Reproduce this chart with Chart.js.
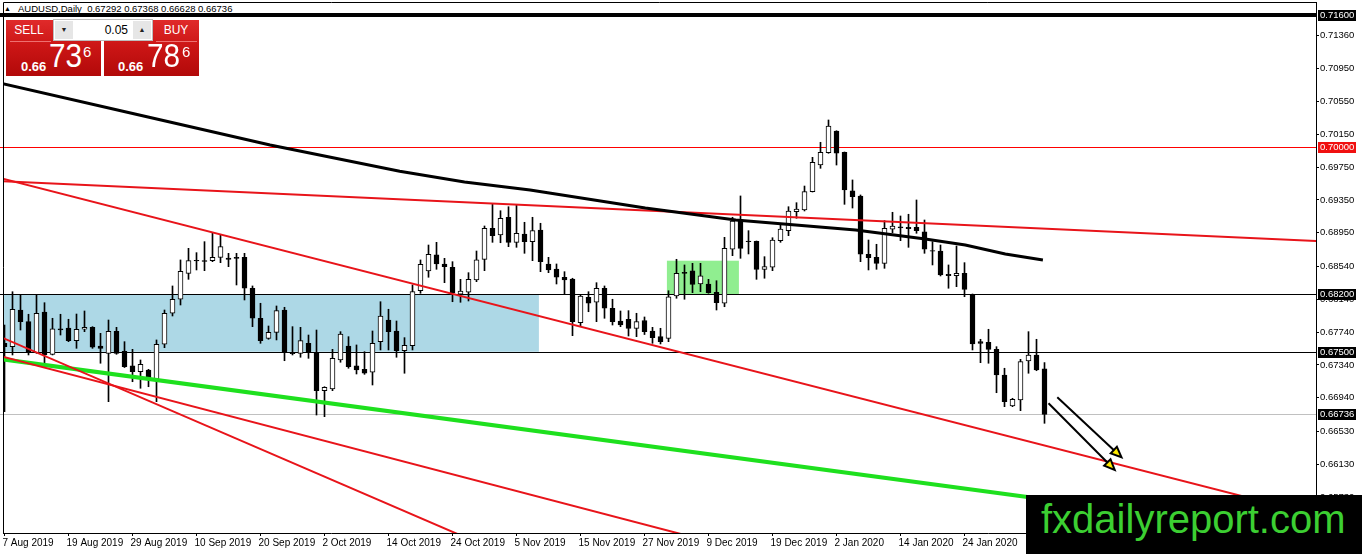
<!DOCTYPE html>
<html>
<head>
<meta charset="utf-8">
<title>AUDUSD Daily</title>
<script src="https://cdn.jsdelivr.net/npm/chart.js@4.4.1/dist/chart.umd.min.js"></script>
<style>
  html, body { margin: 0; padding: 0; background: #fff; }
  #wrap { position: relative; width: 1362px; height: 554px; overflow: hidden; font-family: "Liberation Sans", Arial, sans-serif; }
  #chart { position: absolute; left: 0; top: 0; z-index: 1; }
  #tri { position: absolute; left: 4px; top: 5px; font-size: 7px; line-height: 8px; z-index: 0; }
  #title { position: absolute; left: 18px; top: 3px; z-index: 0; font-size: 9.5px; line-height: 11px; white-space: pre; color: #000; }
  .blk { position: absolute; top: 20px; width: 95px; height: 56px; z-index: 2; color: #fff;
         background: linear-gradient(#e02a2a, #cc1616 45%, #b20909); }
  .act { position: absolute; top: 3px; width: 46px; text-align: center; font-size: 12px; line-height: 14px; }
  .sep { position: absolute; top: 21px; width: 41px; height: 1px; background: #ee7070; }
  .pre { position: absolute; top: 40px; font-weight: bold; font-size: 13px; line-height: 13px; }
  .big { position: absolute; top: 19px; font-size: 33px; line-height: 33px; transform: scaleX(0.9); transform-origin: left top; }
  .sup { position: absolute; top: 24px; font-size: 15px; line-height: 15px; }
  #spin { position: absolute; left: 53px; top: 19px; width: 100px; height: 22px; z-index: 3; background: #fff;
          border: 1px solid #bdbdbd; box-sizing: border-box; font-size: 12px; }
  #spin .btn { position: absolute; top: 1px; width: 18px; height: 18px; background: #e6e6e6; font-size: 7px; line-height: 18px; text-align: center; color: #222; }
  #spin .val { position: absolute; right: 24px; top: 3px; line-height: 14px; color: #000; }
  #mark { position: absolute; left: 1026px; top: 495px; width: 336px; height: 59px; z-index: 3; background: #000;
          color: #3ccf32; font-size: 40px; line-height: 40px; padding: 4px 0 0 15px; box-sizing: border-box; white-space: nowrap; }
</style>
</head>
<body>
<div id="wrap">
  <div id="tri">&#9650;</div>
  <div id="title">AUDUSD,Daily  0.67292 0.67368 0.66628 0.66736</div>
  <canvas id="chart" width="1362" height="554"></canvas>
  <div class="blk" style="left:6px">
    <div class="act" style="left:0">SELL</div>
    <div class="sep" style="left:4px"></div>
    <div class="pre" style="left:15px">0.66</div>
    <div class="big" style="left:43px">73</div>
    <div class="sup" style="left:77px">6</div>
  </div>
  <div class="blk" style="left:104px">
    <div class="act" style="left:49px">BUY</div>
    <div class="sep" style="left:52px"></div>
    <div class="pre" style="left:14px">0.66</div>
    <div class="big" style="left:43px">78</div>
    <div class="sup" style="left:78px">6</div>
  </div>
  <div id="spin">
    <div class="btn" style="left:1px">&#9660;</div>
    <div class="val">0.05</div>
    <div class="btn" style="left:79px">&#9650;</div>
  </div>
  <div id="mark">fxdailyreport.com</div>
</div>
<script>
(function () {
    "use strict";

    // tick labels
    var dates = ["7 Aug 2019", "19 Aug 2019", "29 Aug 2019", "10 Sep 2019", "20 Sep 2019", "2 Oct 2019",
        "14 Oct 2019", "24 Oct 2019", "5 Nov 2019", "15 Nov 2019", "27 Nov 2019", "9 Dec 2019",
        "19 Dec 2019", "2 Jan 2020", "14 Jan 2020", "24 Jan 2020"];
    var priceTicks = [0.71360, 0.70950, 0.70550, 0.70150, 0.69750, 0.69350, 0.68950, 0.68540,
        0.68140, 0.67740, 0.67340, 0.66940, 0.66530, 0.66130, 0.65730];

    // daily candles, 7 Aug 2019 .. 7 Feb 2020
    var opens = [
        0.67603, 0.67562, 0.68009, 0.67867, 0.67489, 0.67985, 0.67469, 0.67778, 0.67790, 0.67635,
        0.67774, 0.67798, 0.67570, 0.67481, 0.67750, 0.67506, 0.67327, 0.67257, 0.67278, 0.67165,
        0.67591, 0.67969, 0.68140, 0.68456, 0.68615, 0.68610, 0.68610, 0.68651, 0.68643, 0.68651,
        0.68651, 0.68274, 0.67908, 0.67664, 0.67737, 0.68009, 0.67489, 0.67481, 0.67603, 0.67494,
        0.67026, 0.67046, 0.67400, 0.67570, 0.67327, 0.67286, 0.67250, 0.67623, 0.67887, 0.67753,
        0.67513, 0.67574, 0.68244, 0.68485, 0.68680, 0.68570, 0.68530, 0.68201, 0.68225, 0.68375,
        0.68627, 0.69005, 0.68923, 0.69139, 0.68834, 0.68935, 0.68842, 0.68984, 0.68570, 0.68509,
        0.68408, 0.68387, 0.67854, 0.68164, 0.68103, 0.68274, 0.68030, 0.67875, 0.67896, 0.67786,
        0.67881, 0.67753, 0.67684, 0.67664, 0.68180, 0.68469, 0.68485, 0.68326, 0.68326, 0.68225,
        0.68091, 0.68749, 0.69106, 0.68850, 0.68846, 0.68505, 0.68530, 0.68854, 0.68976, 0.69207,
        0.69228, 0.69451, 0.69776, 0.69926, 0.70191, 0.69931, 0.69460, 0.69399, 0.68688, 0.68651,
        0.68578, 0.68993, 0.69024, 0.69017, 0.69017, 0.68963, 0.68732, 0.68728, 0.68444, 0.68427,
        0.68456, 0.68192, 0.67623, 0.67615, 0.67530, 0.67217, 0.66839, 0.66912, 0.67388, 0.67461,
        0.67292];
    var highs = [
        0.67826, 0.68232, 0.68192, 0.67957, 0.68192, 0.68098, 0.67908, 0.67957, 0.67896, 0.67960,
        0.67997, 0.67806, 0.67725, 0.67887, 0.67798, 0.67623, 0.67530, 0.67400, 0.67286, 0.67644,
        0.68009, 0.68302, 0.68619, 0.68761, 0.68708, 0.68842, 0.68944, 0.68923, 0.68700, 0.68700,
        0.68700, 0.68302, 0.68091, 0.67814, 0.68058, 0.68042, 0.67806, 0.67798, 0.67704, 0.67765,
        0.67074, 0.67530, 0.67745, 0.67684, 0.67583, 0.67501, 0.67753, 0.68110, 0.68018, 0.67875,
        0.67672, 0.68314, 0.68619, 0.68801, 0.68834, 0.68639, 0.68598, 0.68383, 0.68464, 0.68728,
        0.69033, 0.69301, 0.69219, 0.69268, 0.69289, 0.69078, 0.69139, 0.69066, 0.68651, 0.68570,
        0.68476, 0.68396, 0.68192, 0.68232, 0.68342, 0.68302, 0.68140, 0.67997, 0.68001, 0.67969,
        0.67924, 0.67798, 0.67786, 0.68244, 0.68627, 0.68558, 0.68578, 0.68578, 0.68383, 0.68366,
        0.68895, 0.69139, 0.69399, 0.68976, 0.68850, 0.68659, 0.68890, 0.69045, 0.69268, 0.69317,
        0.69520, 0.69870, 0.70053, 0.70325, 0.70194, 0.69935, 0.69594, 0.69411, 0.68862, 0.68810,
        0.69098, 0.69200, 0.69155, 0.69176, 0.69350, 0.69106, 0.68842, 0.68801, 0.68558, 0.68789,
        0.68586, 0.68204, 0.67652, 0.67774, 0.67562, 0.67299, 0.66933, 0.67408, 0.67745, 0.67652,
        0.67368];
    var lows = [
        0.66770, 0.67461, 0.67765, 0.67461, 0.67481, 0.67339, 0.67461, 0.67704, 0.67623, 0.67542,
        0.67745, 0.67542, 0.67360, 0.66892, 0.67469, 0.67308, 0.67135, 0.67055, 0.67074, 0.66892,
        0.67550, 0.67936, 0.68070, 0.68383, 0.68497, 0.68488, 0.68598, 0.68586, 0.68537, 0.68314,
        0.68131, 0.67806, 0.67603, 0.67652, 0.67644, 0.67391, 0.67461, 0.67433, 0.67420, 0.66729,
        0.66709, 0.67026, 0.67372, 0.67299, 0.67229, 0.67225, 0.67095, 0.67522, 0.67522, 0.67433,
        0.67238, 0.67522, 0.68213, 0.68408, 0.68505, 0.68342, 0.68110, 0.68103, 0.68119, 0.68354,
        0.68488, 0.68834, 0.68829, 0.68781, 0.68773, 0.68700, 0.68610, 0.68476, 0.68464, 0.68326,
        0.68201, 0.67696, 0.67806, 0.67988, 0.67867, 0.67908, 0.67826, 0.67806, 0.67692, 0.67684,
        0.67710, 0.67603, 0.67595, 0.67623, 0.68152, 0.68140, 0.68220, 0.68232, 0.68213, 0.68009,
        0.68049, 0.68671, 0.68639, 0.68692, 0.68383, 0.68396, 0.68488, 0.68834, 0.68915, 0.69127,
        0.69216, 0.69447, 0.69736, 0.69919, 0.69776, 0.69297, 0.69252, 0.68598, 0.68497, 0.68505,
        0.68517, 0.68951, 0.68854, 0.68773, 0.68944, 0.68700, 0.68558, 0.68424, 0.68274, 0.68293,
        0.68171, 0.67522, 0.67367, 0.67360, 0.67001, 0.66831, 0.66831, 0.66782, 0.67238, 0.67269,
        0.66628];
    var closes = [
        0.67562, 0.68018, 0.67867, 0.67494, 0.67969, 0.67461, 0.67778, 0.67765, 0.67635, 0.67774,
        0.67798, 0.67555, 0.67542, 0.67750, 0.67481, 0.67318, 0.67257, 0.67347, 0.67184, 0.67591,
        0.67969, 0.68140, 0.68481, 0.68610, 0.68607, 0.68601, 0.68651, 0.68781, 0.68627, 0.68639,
        0.68274, 0.67908, 0.67635, 0.67737, 0.68001, 0.67494, 0.67477, 0.67635, 0.67494, 0.67026,
        0.67067, 0.67420, 0.67717, 0.67318, 0.67278, 0.67238, 0.67603, 0.67936, 0.67745, 0.67513,
        0.67579, 0.68232, 0.68566, 0.68689, 0.68570, 0.68537, 0.68213, 0.68241, 0.68383, 0.68619,
        0.69005, 0.68915, 0.69127, 0.68834, 0.68944, 0.68842, 0.68976, 0.68598, 0.68497, 0.68408,
        0.68375, 0.67867, 0.68180, 0.68091, 0.68274, 0.68030, 0.67867, 0.67826, 0.67786, 0.67867,
        0.67745, 0.67672, 0.67623, 0.68171, 0.68456, 0.68456, 0.68322, 0.68424, 0.68220, 0.68098,
        0.68761, 0.69094, 0.68761, 0.68842, 0.68505, 0.68537, 0.68862, 0.68996, 0.69216, 0.69240,
        0.69451, 0.69809, 0.69931, 0.70252, 0.69919, 0.69472, 0.69390, 0.68688, 0.68647, 0.68578,
        0.69005, 0.69033, 0.69009, 0.69000, 0.68976, 0.68749, 0.68725, 0.68436, 0.68427, 0.68456,
        0.68261, 0.67595, 0.67603, 0.67530, 0.67217, 0.66892, 0.66921, 0.67379, 0.67461, 0.67278,
        0.66736];

    // moving average, read at a few bars
    var maX = [-0.56, 16.3, 33.2, 49.4, 57.5, 65.7, 80.1, 91.4, 106.4, 115.1, 120.1, 125.1, 129.8];
    var maY = [0.70775, 0.70398, 0.70020, 0.69700, 0.69570, 0.69471, 0.69252, 0.69106, 0.68984, 0.68874, 0.68801, 0.68691, 0.68618];

    // trend lines (bar index, price)
    var upperRedX = [-0.56, 163.94], upperRedY = [0.69581, 0.68850];
    var channelRedX = [-0.56, 163.94], channelRedY = [0.69618, 0.65510];
    var lowRed1X = [-0.56, 60], lowRed1Y = [0.67683, 0.65137];
    var lowRed2X = [-0.56, 90], lowRed2Y = [0.67448, 0.65140];
    var greenX = [-0.56, 128.8], greenY = [0.67412, 0.65717];

    // horizontal levels and zones
    var levels = [0.71600, 0.70000, 0.68200, 0.67500, 0.66736];
    var blueZone = [-0.19, 66.8, 0.67500, 0.68200];
    var greenZone = [82.8, 91.8, 0.68200, 0.68610];

    // arrows
    var arrowFromX = [130.5, 131.6], arrowFromY = [0.66872, 0.66945];
    var arrowToX = [139.0, 139.85], arrowToY = [0.66038, 0.66193];

    Chart.defaults.font.family = '"Liberation Sans", Arial, sans-serif';
    Chart.defaults.color = '#000';

    function pts(xs, ys) {
        return xs.map(function (x, k) { return {x: x, y: ys[k]}; });
    }

    function trend(xs, ys, color, width, order) {
        return {
            type: 'line', data: pts(xs, ys), borderColor: color, borderWidth: width,
            pointRadius: 0, tension: 0, clip: 0, order: order
        };
    }

    var bodies = opens.map(function (o, i) { return {x: i, y: [o, closes[i]]}; });
    var wicks = lows.map(function (l, i) { return {x: i, y: [l, highs[i]]}; });
    var bodyColors = opens.map(function (o, i) { return closes[i] >= o ? '#fff' : '#000'; });

    var levelColor = ['#000', '#ff0000', '#000', '#000', '#c0c0c0'];
    var levelWidth = [4, 1, 1, 1, 1];
    var tagColor = ['#000', '#f01010', '#000', '#000', '#000'];

    var decor = {
        id: 'decor',
        beforeDatasetsDraw: function (c) {
            var ctx = c.ctx, xs = c.scales.x, ys = c.scales.y, a = c.chartArea;
            ctx.save();
            ctx.beginPath();
            ctx.rect(a.left, a.top, a.right - a.left, a.bottom - a.top);
            ctx.clip();
            [[blueZone, '#add8e6'], [greenZone, '#90ee90']].forEach(function (z) {
                var b = z[0];
                var x1 = xs.getPixelForValue(b[0]), x2 = xs.getPixelForValue(b[1]);
                var y1 = ys.getPixelForValue(b[3]), y2 = ys.getPixelForValue(b[2]);
                ctx.fillStyle = z[1];
                ctx.fillRect(x1, y1, x2 - x1, y2 - y1);
            });
            ctx.restore();
            ctx.save();
            levels.forEach(function (v, k) {
                var y = Math.round(ys.getPixelForValue(v)) + (levelWidth[k] % 2 ? 0.5 : 0);
                ctx.strokeStyle = levelColor[k];
                ctx.lineWidth = levelWidth[k];
                ctx.beginPath();
                ctx.moveTo(0, y);
                ctx.lineTo(a.right, y);
                ctx.stroke();
            });
            ctx.restore();
        },
        afterDatasetsDraw: function (c) {
            var ctx = c.ctx, xs = c.scales.x, ys = c.scales.y;
            ctx.save();
            arrowFromX.forEach(function (fx, k) {
                var x1 = xs.getPixelForValue(fx), y1 = ys.getPixelForValue(arrowFromY[k]);
                var x2 = xs.getPixelForValue(arrowToX[k]), y2 = ys.getPixelForValue(arrowToY[k]);
                var ang = Math.atan2(y2 - y1, x2 - x1), cs = Math.cos(ang), sn = Math.sin(ang);
                ctx.strokeStyle = '#000';
                ctx.lineWidth = 2;
                ctx.beginPath();
                ctx.moveTo(x1, y1);
                ctx.lineTo(x2 - 8 * cs, y2 - 8 * sn);
                ctx.stroke();
                ctx.fillStyle = '#000';
                ctx.beginPath();
                ctx.moveTo(x2, y2);
                ctx.lineTo(x2 - 14 * cs + 6 * sn, y2 - 14 * sn - 6 * cs);
                ctx.lineTo(x2 - 14 * cs - 6 * sn, y2 - 14 * sn + 6 * cs);
                ctx.closePath();
                ctx.fill();
                ctx.fillStyle = '#ffea00';
                ctx.beginPath();
                ctx.moveTo(x2 - 5 * cs, y2 - 5 * sn);
                ctx.lineTo(x2 - 12 * cs + 3 * sn, y2 - 12 * sn - 3 * cs);
                ctx.lineTo(x2 - 12 * cs - 3 * sn, y2 - 12 * sn + 3 * cs);
                ctx.closePath();
                ctx.fill();
            });
            ctx.restore();
        },
        afterDraw: function (c) {
            var ctx = c.ctx, ys = c.scales.y, a = c.chartArea;
            ctx.save();
            // frame
            ctx.strokeStyle = '#000';
            ctx.lineWidth = 1;
            ctx.beginPath();
            ctx.moveTo(a.left + 0.5, a.bottom);
            ctx.lineTo(a.left + 0.5, a.top + 0.5);
            ctx.lineTo(a.right, a.top + 0.5);
            ctx.stroke();
            // price tags on the axis
            ctx.font = '9.5px "Liberation Sans", Arial, sans-serif';
            ctx.textBaseline = 'middle';
            ctx.textAlign = 'left';
            levels.forEach(function (v, k) {
                var y = Math.round(ys.getPixelForValue(v));
                ctx.fillStyle = tagColor[k];
                ctx.fillRect(a.right + 2, y - 5, 38, 11);
                ctx.fillStyle = '#fff';
                ctx.fillText(v.toFixed(5), a.right + 4, y + 0.5);
            });
            ctx.restore();
        }
    };

    new Chart(document.getElementById('chart'), {
        type: 'bar',
        data: {
            datasets: [
                {
                    data: bodies, backgroundColor: bodyColors, borderColor: '#000', borderWidth: 1,
                    borderSkipped: false, barThickness: 5, grouped: false, clip: 0, order: 1
                },
                {
                    data: wicks, backgroundColor: '#000', borderWidth: 0,
                    barThickness: 1, grouped: false, clip: 0, order: 2
                },
                trend(maX, maY, '#000', 3, 0),
                trend(upperRedX, upperRedY, '#e8141a', 2, 0),
                trend(channelRedX, channelRedY, '#e8141a', 2, 0),
                trend(lowRed1X, lowRed1Y, '#e8141a', 2, 0),
                trend(lowRed2X, lowRed2Y, '#e8141a', 2, 0),
                trend(greenX, greenY, '#1ee01e', 4, 0)
            ]
        },
        options: {
            responsive: false,
            animation: false,
            layout: {padding: {left: 3, top: 2, right: 0, bottom: 0}},
            plugins: {legend: {display: false}, tooltip: {enabled: false}},
            scales: {
                x: {
                    type: 'linear', min: -0.1875, max: 163.9375, offset: false,
                    grid: {drawOnChartArea: false, offset: false, tickLength: 3, color: '#000'},
                    border: {color: '#000'},
                    ticks: {
                        align: 'start', maxRotation: 0, autoSkip: false, padding: 1, labelOffset: -2,
                        font: {size: 10},
                        callback: function (v) { return dates[Math.round(v / 8)]; }
                    },
                    afterBuildTicks: function (s) {
                        s.ticks = dates.map(function (d, k) { return {value: k * 8}; });
                    },
                    afterFit: function (s) {
                        s.height = 21;
                        s.paddingLeft = 0;
                        s.paddingRight = 0;
                    }
                },
                y: {
                    position: 'right', min: 0.65291, max: 0.71763,
                    grid: {drawOnChartArea: false, tickLength: 3, color: '#000'},
                    border: {color: '#000'},
                    ticks: {
                        padding: 1, autoSkip: false, font: {size: 9.5},
                        callback: function (v) { return Number(v).toFixed(5); }
                    },
                    afterBuildTicks: function (s) {
                        s.ticks = priceTicks.map(function (v) { return {value: v}; });
                    },
                    afterFit: function (s) {
                        s.width = 46;
                        s.paddingTop = 0;
                        s.paddingBottom = 0;
                    }
                }
            }
        },
        plugins: [decor]
    });
})();
</script>
</body>
</html>
